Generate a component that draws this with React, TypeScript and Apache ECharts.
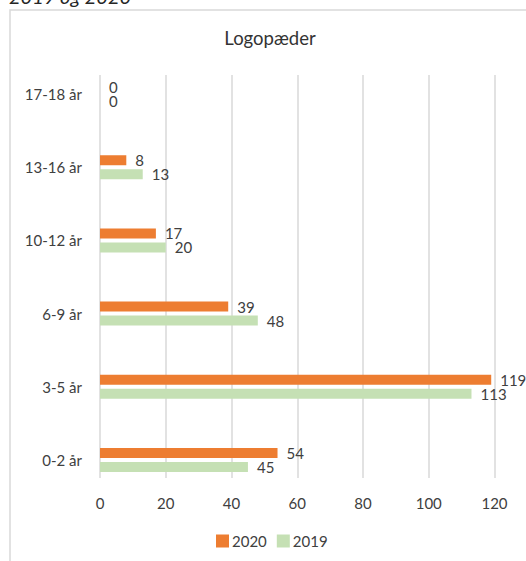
import React, { useEffect, useRef } from "react";
import * as echarts from "echarts";

const categories = ["0-2 år", "3-5 år", "6-9 år", "10-12 år", "13-16 år", "17-18 år"];
const values2020 = [54, 119, 39, 17, 8, 0];
const values2019 = [45, 113, 48, 20, 13, 0];
const xTicks = { min: 0, max: 120, interval: 20 };

const FONT = "Lato";
const TEXT = "#404040";

export default function App() {
  const ref = useRef<HTMLDivElement>(null);
  useEffect(() => {
    if (!ref.current) return;
    const chart = echarts.init(ref.current, undefined, { renderer: "svg" });
    const labelCommon = {
      show: true,
      position: "right" as const,
      distance: 9,
      color: TEXT,
      fontFamily: FONT,
      fontSize: 15,
    };
    chart.setOption({
      animation: false,
      backgroundColor: "#ffffff",
      graphic: [
        {
          type: "rect",
          shape: { x: 10, y: 10, width: 700, height: 700 },
          style: { fill: "none", stroke: "#d9d9d9", lineWidth: 1.5 },
          silent: true,
        },
        {
          type: "text",
          x: 9,
          y: -4.5,
          style: {
            text: "2019 og 2020",
            font: `italic 20px ${FONT}`,
            fill: "#262626",
            align: "left",
            verticalAlign: "middle",
          },
        },
        {
          type: "text",
          x: 270,
          y: 38,
          style: {
            text: "Logopæder",
            font: `18.5px ${FONT}`,
            fill: "#333333",
            align: "center",
            verticalAlign: "middle",
          },
        },
      ],
      legend: {
        data: ["2020", "2019"],
        left: 216,
        top: 533.5,
        padding: 0,
        icon: "rect",
        itemWidth: 13,
        itemHeight: 13,
        itemGap: 10,
        textStyle: { color: TEXT, fontFamily: FONT, fontSize: 15, padding: [0, 0, 0, -2] },
      },
      grid: [
        { left: 100, width: 394.5, top: 75, height: 403 },
        { left: 100, width: 394.5, top: 57.5, height: 439 },
      ],
      xAxis: [
        {
          type: "value",
          gridIndex: 0,
          min: xTicks.min,
          max: xTicks.max,
          interval: xTicks.interval,
          axisLine: { show: false },
          axisTick: { show: false },
          axisLabel: { color: TEXT, fontFamily: FONT, fontSize: 15, margin: 17 },
          splitLine: { show: true, lineStyle: { color: "#d9d9d9", width: 1.5 } },
        },
        {
          type: "value",
          gridIndex: 1,
          min: xTicks.min,
          max: xTicks.max,
          interval: xTicks.interval,
          show: false,
          splitLine: { show: false },
        },
      ],
      yAxis: [
        {
          type: "category",
          gridIndex: 0,
          data: categories,
          show: false,
        },
        {
          type: "category",
          gridIndex: 1,
          data: categories,
          axisLine: { show: false },
          axisTick: { show: false },
          axisLabel: { color: TEXT, fontFamily: FONT, fontSize: 15, margin: 18 },
          splitLine: { show: false },
        },
      ],
      series: [
        {
          name: "2020",
          type: "bar",
          xAxisIndex: 1,
          yAxisIndex: 1,
          data: values2020,
          barWidth: 10,
          barGap: "40%",
          itemStyle: { color: "#ED7D31" },
          label: labelCommon,
        },
        {
          name: "2019",
          type: "bar",
          xAxisIndex: 1,
          yAxisIndex: 1,
          data: values2019,
          barWidth: 10,
          barGap: "40%",
          itemStyle: { color: "#C5E0B4" },
          label: labelCommon,
        },
      ],
    });
    return () => chart.dispose();
  }, []);
  return (
    <div
      ref={ref}
      style={{ position: "absolute", left: 0, top: 0, width: 526, height: 561 }}
    />
  );
}
